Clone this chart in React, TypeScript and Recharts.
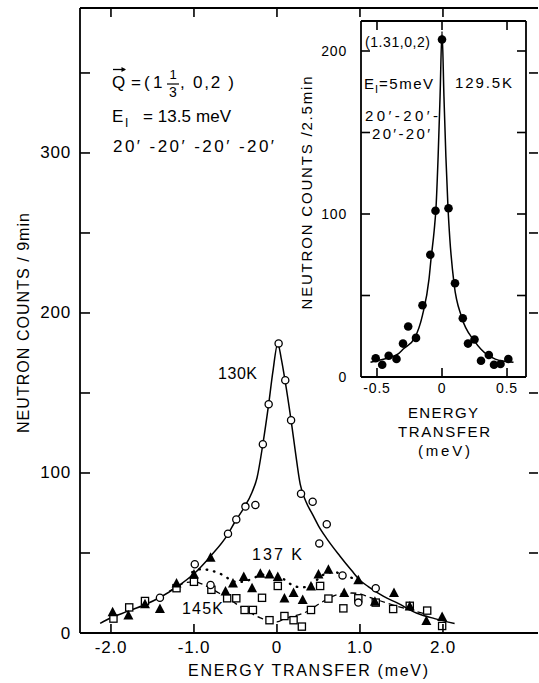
import React from "react";
import { ComposedChart, Line, Scatter, XAxis, YAxis } from "recharts";

const FONT = '"Liberation Sans", Arial, Helvetica, sans-serif';

// ---------------- main panel ----------------
const mainXTicks = [-2, -1, 0, 1, 2];
const mainXLabels = ["-2.0", "-1.0", "0", "1.0", "2.0"];
const mainYTicks = [0, 50, 100, 150, 200, 250, 300, 350];
const mainYLabelled = [0, 100, 200, 300];

// 130 K open circles
const c130E = [-1.41, -0.99, -0.8, -0.59, -0.49, -0.38, -0.26, -0.17, -0.1, 0.02, 0.1, 0.17, 0.29, 0.43, 0.51, 0.6, 0.79, 0.98, 1.19];
const c130C = [22, 43, 30, 62, 71, 79, 80, 118, 143, 181, 158, 133, 87, 82, 56, 68, 36, 19, 28];

// 137 K filled triangles
const t137E = [-1.98, -1.79, -1.59, -1.41, -1.21, -1.0, -0.8, -0.62, -0.53, -0.4, -0.3, -0.2, -0.09, 0.01, 0.09, 0.2, 0.31, 0.41, 0.5, 0.62, 0.81, 0.98, 1.18, 1.41, 1.6, 1.8, 1.99];
const t137C = [13, 11, 18, 15, 31, 36.5, 47, 26, 31, 35, 28, 37, 36.5, 35, 21.5, 25, 20.6, 29, 36.5, 39.5, 25, 33, 19.5, 25, 16.5, 7.5, 10];

// 145 K open squares
const s145E = [-1.97, -1.78, -1.59, -1.21, -1.0, -0.79, -0.6, -0.49, -0.39, -0.29, -0.18, -0.09, 0.01, 0.09, 0.2, 0.3, 0.41, 0.52, 0.62, 0.8, 0.98, 1.19, 1.4, 1.6, 1.81, 1.99];
const s145C = [9, 16, 20, 28, 32, 27, 21.7, 21.7, 14.4, 14.4, 22, 8, 29.4, 10.6, 8, 4, 14.4, 29.4, 21.5, 15.4, 21.7, 19, 15, 17, 14, 4.4];

// solid fitted curve (130 K)
const fitE = [-2.13, -2.0, -1.8, -1.6, -1.4, -1.2, -1.0, -0.8, -0.6, -0.5, -0.4, -0.3, -0.24, -0.17, -0.1, -0.05, 0.01, 0.05, 0.1, 0.17, 0.22, 0.28, 0.35, 0.43, 0.5, 0.6, 0.76, 0.9, 1.0, 1.1, 1.28, 1.46, 1.68, 1.9, 2.14];
const fitC = [6, 9.5, 13.5, 17.5, 22.5, 29, 37, 48, 61, 70, 78, 88, 97, 118, 143, 163, 181, 172, 157, 133, 114, 93, 82, 74, 67, 59, 48, 39, 33, 29, 23, 18.5, 12.5, 9, 6];

// dotted curve (137 K)
const dotE = [-1.02, -0.9, -0.8, -0.7, -0.6, -0.5, -0.4, -0.3, -0.2, -0.1, 0, 0.1, 0.2, 0.3, 0.4, 0.5, 0.6, 0.7, 0.8, 0.9, 1.0];
const dotC = [38, 40, 39, 37.5, 34.5, 32, 32, 34, 36, 37, 36, 33, 29.5, 28.5, 30, 34, 37.5, 38, 36, 34.5, 33];

// dashed curve (145 K)
const dashE = [-1.3, -1.2, -1.1, -1.0, -0.9, -0.8, -0.7, -0.6, -0.5, -0.4, -0.3, -0.2, -0.1, 0, 0.1, 0.2, 0.3, 0.4, 0.5, 0.6, 0.7, 0.8, 0.9, 1.0, 1.1, 1.25, 1.4, 1.6, 1.78];
const dashC = [26, 29, 31.5, 32, 30.5, 28, 25, 22, 18.5, 15, 12, 9.5, 7.5, 7, 9, 10.5, 12, 14.5, 18, 21, 23.5, 24.5, 25, 24.5, 22.5, 20, 17.5, 14.5, 12];

// ---------------- inset panel (129.5 K) ----------------
const insXTicks = [-0.5, 0, 0.5];
const insXLabels = ["-0.5", "0", "0.5"];
const insYTicks = [0, 50, 100, 150, 200];
const insYLabelled = [0, 100, 200];

const insE = [-0.51, -0.46, -0.41, -0.35, -0.3, -0.26, -0.2, -0.15, -0.09, -0.05, 0.0, 0.05, 0.1, 0.16, 0.2, 0.25, 0.3, 0.36, 0.4, 0.45, 0.51];
const insC = [11.5, 7.5, 13, 11, 20.5, 31, 24, 44, 75, 102, 207, 103.5, 57.5, 36, 20.5, 23, 10, 13.5, 7.5, 8, 11];

const insFitE = [-0.55, -0.5, -0.4, -0.34, -0.3, -0.21, -0.15, -0.1, -0.085, -0.06, -0.046, -0.03, -0.015, 0, 0.015, 0.03, 0.046, 0.06, 0.093, 0.15, 0.25, 0.3, 0.41, 0.5, 0.55];
const insFitC = [9, 10, 12, 14, 17, 24, 38, 60, 72, 90, 104, 135, 172, 212, 172, 135, 104, 85, 57, 37, 22, 17, 11, 9.5, 9];

const pts = (xs: number[], ys: number[]) => xs.map((x, i) => ({ x, y: ys[i] }));

const makeTick = (
  side: "bottom" | "top" | "left" | "right",
  len: number,
  fontSize: number,
  gap: number,
  labelFor?: (v: number) => string | null
) => (p: any) => {
  const { x, y, payload } = p;
  const v = payload.value as number;
  const lab = labelFor ? labelFor(v) : null;
  let x2 = x, y2 = y, tx = x, ty = y;
  let anchor: "middle" | "end" = "middle";
  if (side === "bottom") { y2 = y - len; ty = y + gap; }
  if (side === "top") { y2 = y + len; }
  if (side === "left") { x2 = x + len; tx = x - gap; anchor = "end"; }
  if (side === "right") { x2 = x - len; }
  return (
    <g>
      <line x1={x} y1={y} x2={x2} y2={y2} stroke="#000" strokeWidth={1.6} />
      {lab != null && (
        <text x={tx} y={ty} textAnchor={anchor} dominantBaseline="central" fontFamily={FONT} fontSize={fontSize} fill="#000" letterSpacing={0.8}>
          {lab}
        </text>
      )}
    </g>
  );
};

const OpenCircle = (p: any) => <circle cx={p.cx} cy={p.cy} r={3.6} fill="#fff" stroke="#000" strokeWidth={1.3} />;
const OpenSquare = (p: any) => <rect x={p.cx - 3.6} y={p.cy - 3.6} width={7.2} height={7.2} fill="#fff" stroke="#000" strokeWidth={1.3} />;
const FilledTri = (p: any) => {
  const { cx, cy } = p;
  const s = 5;
  return <path d={`M${cx},${cy - s - 0.5} L${cx + s},${cy + s * 0.8} L${cx - s},${cy + s * 0.8} Z`} fill="#000" />;
};
const FilledDot = (p: any) => <circle cx={p.cx} cy={p.cy} r={4.3} fill="#000" />;

const axisLine = { stroke: "#000", strokeWidth: 1.8 };

function MainChart() {
  return (
    <ComposedChart width={539} height={683} margin={{ top: 7, right: 0, bottom: 49, left: 79 }}>
      <XAxis dataKey="x" type="number" domain={[-2.373, 3.145]} allowDataOverflow ticks={mainXTicks} interval={0}
        height={1} tickSize={0} tickMargin={0} tickLine={false} axisLine={axisLine}
        tick={makeTick("bottom", 9, 17, 14, (v) => mainXLabels[mainXTicks.indexOf(v)] ?? null)} />
      <XAxis xAxisId="t" orientation="top" dataKey="x" type="number" domain={[-2.373, 3.145]} allowDataOverflow ticks={mainXTicks} interval={0}
        height={1} tickSize={0} tickMargin={0} tickLine={false} axisLine={axisLine} tick={makeTick("top", 9, 16, 0)} />
      <YAxis dataKey="y" type="number" domain={[0, 390.6]} allowDataOverflow ticks={mainYTicks} interval={0}
        width={1} tickSize={0} tickMargin={0} tickLine={false} axisLine={axisLine}
        tick={makeTick("left", 10, 17, 9, (v) => (mainYLabelled.includes(v) ? String(v) : null))} />
      <YAxis yAxisId="r" orientation="right" dataKey="y" type="number" domain={[0, 390.6]} allowDataOverflow ticks={mainYTicks} interval={0}
        width={1} tickSize={0} tickMargin={0} tickLine={false} axisLine={false} tick={makeTick("right", 9, 16, 0)} />
      <Line data={pts(fitE, fitC)} dataKey="y" type="monotone" stroke="#000" strokeWidth={1.5} dot={false} isAnimationActive={false} />
      <Line data={pts(dotE, dotC)} dataKey="y" type="monotone" stroke="#000" strokeWidth={2.4} strokeDasharray="0.5 7" strokeLinecap="round" dot={false} isAnimationActive={false} />
      <Line data={pts(dashE, dashC)} dataKey="y" type="monotone" stroke="#000" strokeWidth={1.3} strokeDasharray="6 4" dot={false} isAnimationActive={false} />
      <Scatter data={pts(s145E, s145C)} dataKey="y" shape={OpenSquare} isAnimationActive={false} />
      <Scatter data={pts(t137E, t137C)} dataKey="y" shape={FilledTri} isAnimationActive={false} />
      <Scatter data={pts(c130E, c130C)} dataKey="y" shape={OpenCircle} isAnimationActive={false} />
    </ComposedChart>
  );
}

function InsetChart() {
  return (
    <ComposedChart width={249} height={450} margin={{ top: 20, right: 12, bottom: 72, left: 70 }}>
      <XAxis dataKey="x" type="number" domain={[-0.623, 0.646]} allowDataOverflow ticks={insXTicks} interval={0}
        height={1} tickSize={0} tickMargin={0} tickLine={false} axisLine={axisLine}
        tick={makeTick("bottom", 9, 14, 11, (v) => insXLabels[insXTicks.indexOf(v)] ?? null)} />
      <XAxis xAxisId="t" orientation="top" dataKey="x" type="number" domain={[-0.623, 0.646]} allowDataOverflow ticks={insXTicks} interval={0}
        height={1} tickSize={0} tickMargin={0} tickLine={false} axisLine={axisLine} tick={makeTick("top", 9, 14, 0)} />
      <YAxis dataKey="y" type="number" domain={[0, 218.4]} allowDataOverflow ticks={insYTicks} interval={0}
        width={1} tickSize={0} tickMargin={0} tickLine={false} axisLine={axisLine}
        tick={makeTick("left", 9, 14, 14, (v) => (insYLabelled.includes(v) ? String(v) : null))} />
      <YAxis yAxisId="r" orientation="right" dataKey="y" type="number" domain={[0, 218.4]} allowDataOverflow ticks={insYTicks} interval={0}
        width={1} tickSize={0} tickMargin={0} tickLine={false} axisLine={axisLine} tick={makeTick("right", 9, 14, 0)} />
      <Line data={pts(insFitE, insFitC)} dataKey="y" type="monotone" stroke="#000" strokeWidth={1.5} dot={false} isAnimationActive={false} />
      <Scatter data={pts(insE, insC)} dataKey="y" shape={FilledDot} isAnimationActive={false} />
    </ComposedChart>
  );
}

const T = (props: any) => (
  <text fontFamily={FONT} fill="#000" dominantBaseline="central" {...props} />
);

function Overlay() {
  return (
    <svg width={539} height={683} style={{ position: "absolute", left: 0, top: 0, pointerEvents: "none" }}>
      {/* main axis titles */}
      <T x={308} y={670} fontSize={16} textAnchor="middle" textLength={240} lengthAdjust="spacing">ENERGY TRANSFER (meV)</T>
      <T x={0} y={0} fontSize={16} textAnchor="middle" textLength={220} lengthAdjust="spacing" transform="translate(23,323) rotate(-90)">NEUTRON COUNTS / 9min</T>

      {/* main annotations */}
      <line x1={113} y1={69.5} x2={125} y2={69.5} stroke="#000" strokeWidth={1.3} />
      <path d="M126,69.5 L121.5,67 L121.5,72 Z" fill="#000" />
      <T x={112} y={82} fontSize={17}>Q</T>
      <T x={131} y={82} fontSize={17}>=</T>
      <T x={144} y={82} fontSize={17}>(</T>
      <T x={153} y={82} fontSize={17}>1</T>
      <T x={173} y={74} fontSize={13} textAnchor="middle">1</T>
      <line x1={167} y1={84} x2={179} y2={84} stroke="#000" strokeWidth={1.2} />
      <T x={173} y={92} fontSize={14} textAnchor="middle">3</T>
      <T x={180} y={82} fontSize={17} textLength={54} lengthAdjust="spacing">, 0,2 )</T>
      <T x={112} y={116} fontSize={17}>E</T>
      <T x={125} y={123} fontSize={12}>I</T>
      <T x={143} y={116} fontSize={17} textLength={88} lengthAdjust="spacing">= 13.5 meV</T>
      <T x={113} y={146} fontSize={17} textLength={161} lengthAdjust="spacing">20′ -20′ -20′ -20′</T>
      <T x={218} y={373} fontSize={16} textLength={39} lengthAdjust="spacing">130K</T>
      <T x={252} y={554} fontSize={16} textLength={50} lengthAdjust="spacing">137 K</T>
      <T x={182} y={608} fontSize={16} textLength={41} lengthAdjust="spacing">145K</T>

      {/* inset axis titles */}
      <T x={0} y={0} fontSize={15} textAnchor="middle" textLength={233} lengthAdjust="spacing" transform="translate(306,193) rotate(-90)">NEUTRON COUNTS /2.5min</T>
      <T x={443} y={412} fontSize={15} textAnchor="middle" textLength={70} lengthAdjust="spacing">ENERGY</T>
      <T x={444} y={431} fontSize={15} textAnchor="middle" textLength={92} lengthAdjust="spacing">TRANSFER</T>
      <T x={444} y={450} fontSize={15} textAnchor="middle" textLength={52} lengthAdjust="spacing">(meV)</T>

      {/* inset annotations */}
      <T x={365} y={42} fontSize={14} textLength={65} lengthAdjust="spacing">(1.31,0,2)</T>
      <T x={364} y={83} fontSize={15}>E</T>
      <T x={375} y={89} fontSize={11}>I</T>
      <T x={379} y={83} fontSize={15} textLength={54} lengthAdjust="spacing">=5meV</T>
      <T x={455} y={82} fontSize={15} textLength={57} lengthAdjust="spacing">129.5K</T>
      <T x={365} y={115} fontSize={15} textLength={73} lengthAdjust="spacing">20′-20′-</T>
      <T x={372} y={133} fontSize={15} textLength={58} lengthAdjust="spacing">20′-20′</T>
    </svg>
  );
}

export default function App() {
  return (
    <div style={{ position: "absolute", left: 0, top: 0, width: 539, height: 683, background: "#fff" }}>
      <div style={{ position: "absolute", left: 0, top: 0 }}>
        <MainChart />
      </div>
      <div style={{ position: "absolute", left: 290, top: 0 }}>
        <InsetChart />
      </div>
      <Overlay />
    </div>
  );
}
